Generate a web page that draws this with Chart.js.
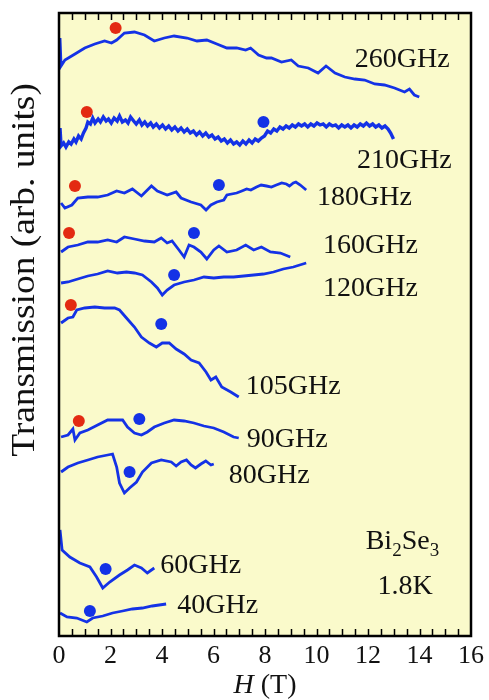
<!DOCTYPE html>
<html>
<head>
<meta charset="utf-8">
<script src="https://cdn.jsdelivr.net/npm/chart.js@4.4.1/dist/chart.umd.min.js"></script>
<style>
  body { margin: 0; background: #fff; }
  #chart { display: block; }
</style>
</head>
<body>
<canvas id="chart" width="489" height="700"></canvas>
<script>
// Field H (T) and transmission (arb. units, traces offset vertically)
const h260 = [0.04, 0.08, 0.23, 0.62, 1.00, 1.39, 1.77, 2.04, 2.24, 2.54, 2.93, 3.32, 3.70, 4.09, 4.47, 4.97, 5.36, 5.74, 6.13, 6.52, 6.90, 7.25, 7.44, 7.75, 8.06, 8.25, 8.64, 9.02, 9.29, 9.68, 10.06, 10.37, 10.72, 11.10, 11.49, 11.87, 12.26, 12.64, 13.03, 13.42, 13.61, 13.80, 13.99];
const t260 = [598, 570, 576, 582, 588, 592, 595, 593, 596, 603, 604, 601, 595, 598, 600, 598, 595, 596, 592, 588, 588, 586, 588, 581, 578, 578, 574, 576, 570, 568, 563, 570, 563, 559, 557, 556, 552, 551, 548, 544, 547, 541, 539];

const h210 = [0.04, 0.08, 0.18, 0.27, 0.38, 0.47, 0.58, 0.66, 0.76, 0.86, 0.95, 1.05, 1.12, 1.22, 1.31, 1.40, 1.52, 1.61, 1.72, 1.83, 1.92, 2.03, 2.14, 2.26, 2.35, 2.46, 2.58, 2.68, 2.78, 2.90, 3.00, 3.12, 3.22, 3.33, 3.44, 3.56, 3.66, 3.78, 3.90, 4.02, 4.14, 4.26, 4.38, 4.50, 4.62, 4.74, 4.86, 4.98, 5.10, 5.22, 5.34, 5.46, 5.58, 5.70, 5.82, 5.94, 6.06, 6.18, 6.30, 6.42, 6.54, 6.66, 6.78, 6.90, 7.02, 7.14, 7.26, 7.38, 7.50, 7.62, 7.74, 7.86, 7.98, 8.10, 8.22, 8.34, 8.46, 8.58, 8.70, 8.82, 8.94, 9.06, 9.18, 9.30, 9.42, 9.54, 9.66, 9.78, 9.90, 10.02, 10.14, 10.26, 10.38, 10.50, 10.62, 10.74, 10.86, 10.98, 11.10, 11.22, 11.34, 11.46, 11.58, 11.70, 11.82, 11.94, 12.06, 12.18, 12.30, 12.42, 12.54, 12.66, 12.78, 12.88, 12.99];
const t210 = [508, 490, 493, 489, 494, 492, 497, 494, 500, 497, 503, 508, 514, 512, 518, 513, 517, 514, 519, 515, 517, 513, 518, 515, 520, 514, 516, 513, 519, 515, 512, 516, 511, 514, 510, 513, 509, 512, 508, 511, 507, 510, 506, 509, 505, 508, 504, 507, 503, 505, 501, 504, 500, 503, 499, 501, 497, 499, 495, 497, 493, 496, 492, 494, 491, 495, 492, 496, 493, 497, 495, 498, 500, 505, 503, 507, 505, 509, 507, 510, 508, 511, 509, 512, 510, 512, 509, 512, 510, 513, 511, 512, 509, 512, 510, 511, 508, 511, 509, 511, 508, 511, 509, 512, 510, 513, 510, 512, 509, 511, 508, 510, 507, 503, 497];

const h180 = [0.08, 0.23, 0.50, 0.73, 1.12, 1.50, 1.89, 2.24, 2.54, 2.85, 3.20, 3.59, 3.82, 4.20, 4.55, 4.74, 5.13, 5.51, 5.71, 5.90, 6.13, 6.40, 6.52, 6.90, 7.10, 7.29, 7.45, 7.67, 7.85, 8.06, 8.25, 8.44, 8.65, 8.83, 8.95, 9.10, 9.20, 9.37, 9.60];
const t180 = [433, 428, 431, 438, 439, 439, 441, 445, 443, 447, 440, 450, 445, 441, 444, 438, 434, 431, 426, 431, 434, 436, 441, 443, 445, 447, 446, 449, 451, 450, 449, 451, 453, 452, 450, 453, 454, 451, 446];

const h160 = [0.08, 0.35, 0.73, 1.12, 1.50, 1.89, 2.24, 2.54, 2.93, 3.32, 3.70, 3.97, 4.20, 4.39, 4.66, 4.86, 5.05, 5.24, 5.51, 5.74, 6.01, 6.21, 6.52, 6.90, 7.25, 7.56, 7.86, 8.21, 8.60, 8.98];
const t160 = [384, 389, 391, 394, 394, 396, 394, 399, 397, 395, 394, 398, 393, 395, 386, 379, 391, 389, 384, 377, 386, 390, 384, 386, 391, 386, 389, 384, 383, 379];

const h120 = [0.08, 0.35, 0.73, 1.12, 1.50, 1.89, 2.27, 2.62, 2.93, 3.24, 3.59, 3.82, 4.01, 4.20, 4.47, 4.86, 5.24, 5.63, 6.01, 6.40, 6.78, 7.17, 7.56, 7.94, 8.33, 8.71, 9.10, 9.60];
const t120 = [353, 354, 357, 360, 362, 365, 363, 364, 363, 361, 354, 348, 341, 346, 351, 354, 356, 359, 358, 359, 359, 360, 361, 362, 364, 367, 369, 373];

const h105 = [0.08, 0.35, 0.54, 0.69, 1.00, 1.39, 1.77, 2.16, 2.35, 2.62, 2.93, 3.20, 3.51, 3.78, 4.01, 4.28, 4.55, 4.86, 5.13, 5.44, 5.71, 5.90, 6.09, 6.32, 6.67, 6.98];
const t105 = [313, 318, 319, 326, 328, 329, 328, 328, 326, 318, 309, 299, 293, 289, 293, 293, 287, 282, 276, 273, 264, 256, 259, 249, 244, 239];

const h90 = [0.08, 0.35, 0.54, 0.62, 0.81, 1.12, 1.50, 1.89, 2.27, 2.47, 2.66, 2.93, 3.20, 3.43, 3.70, 4.09, 4.47, 4.86, 5.24, 5.63, 6.01, 6.40, 6.78, 6.98];
const t90 = [199, 201, 207, 196, 203, 206, 211, 216, 216, 216, 209, 203, 201, 204, 209, 213, 216, 215, 213, 210, 208, 204, 199, 198];

const h80 = [0.08, 0.35, 0.73, 1.12, 1.50, 1.89, 2.08, 2.24, 2.35, 2.54, 2.74, 3.01, 3.24, 3.59, 3.97, 4.36, 4.55, 4.74, 4.95, 5.13, 5.30, 5.51, 5.70, 5.90, 6.01];
const t80 = [164, 169, 173, 176, 179, 181, 182, 169, 153, 143, 148, 154, 164, 173, 176, 174, 170, 174, 176, 171, 168, 172, 175, 171, 172];

const h60 = [0.04, 0.12, 0.42, 0.81, 1.20, 1.46, 1.70, 1.97, 2.35, 2.66, 2.93, 3.20, 3.43, 3.70];
const t60 = [106, 86, 79, 73, 69, 59, 48, 54, 61, 66, 71, 68, 63, 68];

const h40 = [0.04, 0.31, 0.69, 1.08, 1.31, 1.70, 2.08, 2.47, 2.85, 3.24, 3.62, 4.16];
const t40 = [23, 19, 18, 14, 18, 20, 23, 25, 27, 28, 30, 32];

// Marked resonances
const redH = [2.20, 1.08, 0.62, 0.39, 0.46, 0.77];
const redT = [608, 524, 450, 403, 331, 215];
const blueH = [7.94, 6.21, 5.24, 4.47, 3.97, 3.12, 2.74, 1.81, 1.20];
const blueT = [514, 451, 403, 361, 312, 217, 164, 67, 25];

// Trace labels
const labelText = ['260GHz', '210GHz', '180GHz', '160GHz', '120GHz', '105GHz', '90GHz', '80GHz', '60GHz', '40GHz'];
const labelH = [11.49, 11.57, 10.02, 10.25, 10.25, 7.25, 7.29, 6.59, 3.93, 4.59];
const labelT = [569, 468, 431, 383, 340, 242, 189, 153, 63, 23];

const xTicks = [0, 2, 4, 6, 8, 10, 12, 14, 16];

const BLUE = '#1432e6';
const RED = '#e32a12';
const SERIF = '"Liberation Serif", "Times New Roman", serif';

function pts(hs, ts) {
  return hs.map((h, i) => ({ x: h, y: ts[i] }));
}

const traces = [[h260, t260], [h210, t210], [h180, t180], [h160, t160], [h120, t120],
                [h105, t105], [h90, t90], [h80, t80], [h60, t60], [h40, t40]];

const datasets = traces.map((tr, i) => ({
  data: pts(tr[0], tr[1]),
  showLine: true,
  borderColor: BLUE,
  borderWidth: i === 1 ? 3.4 : 2.8,
  pointRadius: 0,
  tension: 0
}));
datasets.push({ data: pts(redH, redT), backgroundColor: RED, borderWidth: 0, pointRadius: 6, showLine: false });
datasets.push({ data: pts(blueH, blueT), backgroundColor: BLUE, borderWidth: 0, pointRadius: 6, showLine: false });

// Yellow panel, frame, inward ticks and text
const framePlugin = {
  id: 'frame',
  beforeDraw(chart) {
    const { ctx, chartArea: a } = chart;
    ctx.save();
    ctx.fillStyle = '#fafacb';
    ctx.fillRect(a.left, a.top, a.right - a.left, a.bottom - a.top);
    ctx.restore();
  },
  afterDatasetsDraw(chart) {
    const { ctx, chartArea: a, scales } = chart;
    const xs = scales.x, ys = scales.y;
    ctx.save();
    // ticks every 0.5 T, top and bottom
    ctx.strokeStyle = '#000';
    ctx.lineWidth = 1.5;
    for (let v = 0.5; v < 16; v += 0.5) {
      const px = Math.round(xs.getPixelForValue(v)) + 0.5;
      const len = 7;
      ctx.beginPath();
      ctx.moveTo(px, a.bottom); ctx.lineTo(px, a.bottom - len);
      ctx.moveTo(px, a.top); ctx.lineTo(px, a.top + len);
      ctx.stroke();
    }
    ctx.lineWidth = 2.5;
    ctx.strokeRect(a.left, a.top, a.right - a.left, a.bottom - a.top);

    // trace labels
    ctx.fillStyle = '#111';
    ctx.font = '28px ' + SERIF;
    ctx.textBaseline = 'alphabetic';
    ctx.textAlign = 'left';
    labelText.forEach((t, i) => {
      ctx.fillText(t, xs.getPixelForValue(labelH[i]), ys.getPixelForValue(labelT[i]));
    });

    // Bi2Se3 with subscripts
    let x = xs.getPixelForValue(11.91);
    const y = ys.getPixelForValue(87);
    const parts = [['Bi', 0, 28], ['2', 7, 19], ['Se', 0, 28], ['3', 7, 19]];
    parts.forEach(p => {
      ctx.font = p[2] + 'px ' + SERIF;
      ctx.fillText(p[0], x, y + p[1]);
      x += ctx.measureText(p[0]).width;
    });
    ctx.font = '28px ' + SERIF;
    ctx.fillText('1.8K', xs.getPixelForValue(12.37), ys.getPixelForValue(42));

    // axis titles
    ctx.font = 'italic 28px ' + SERIF;
    const hW = ctx.measureText('H').width;
    ctx.font = '28px ' + SERIF;
    const rW = ctx.measureText(' (T)').width;
    const cx = (a.left + a.right) / 2;
    const sx = cx - (hW + rW) / 2;
    ctx.font = 'italic 28px ' + SERIF;
    ctx.fillText('H', sx, 693);
    ctx.font = '28px ' + SERIF;
    ctx.fillText(' (T)', sx + hW, 693);

    ctx.font = '34px ' + SERIF;
    ctx.translate(25, 270);
    ctx.rotate(-Math.PI / 2);
    ctx.scale(1.1, 1);
    ctx.textAlign = 'center';
    ctx.textBaseline = 'middle';
    ctx.fillText('Transmission (arb. units)', 0, 0);
    ctx.restore();
  }
};

new Chart(document.getElementById('chart'), {
  type: 'scatter',
  data: { datasets },
  options: {
    responsive: false,
    animation: false,
    devicePixelRatio: 1,
    layout: { padding: { left: 59, right: 15, top: 13, bottom: 0 } },
    plugins: { legend: { display: false }, tooltip: { enabled: false } },
    scales: {
      x: {
        type: 'linear',
        min: 0,
        max: 16,
        afterFit: s => { s.height = 64; },
        afterBuildTicks: s => { s.ticks = xTicks.map(v => ({ value: v })); },
        grid: { display: false, drawTicks: false },
        border: { display: false },
        ticks: {
          padding: 5,
          color: '#111',
          font: { family: SERIF, size: 26 },
          maxRotation: 0
        }
      },
      y: {
        type: 'linear',
        min: 0,
        max: 623,
        display: false
      }
    }
  },
  plugins: [framePlugin]
});
</script>
</body>
</html>
